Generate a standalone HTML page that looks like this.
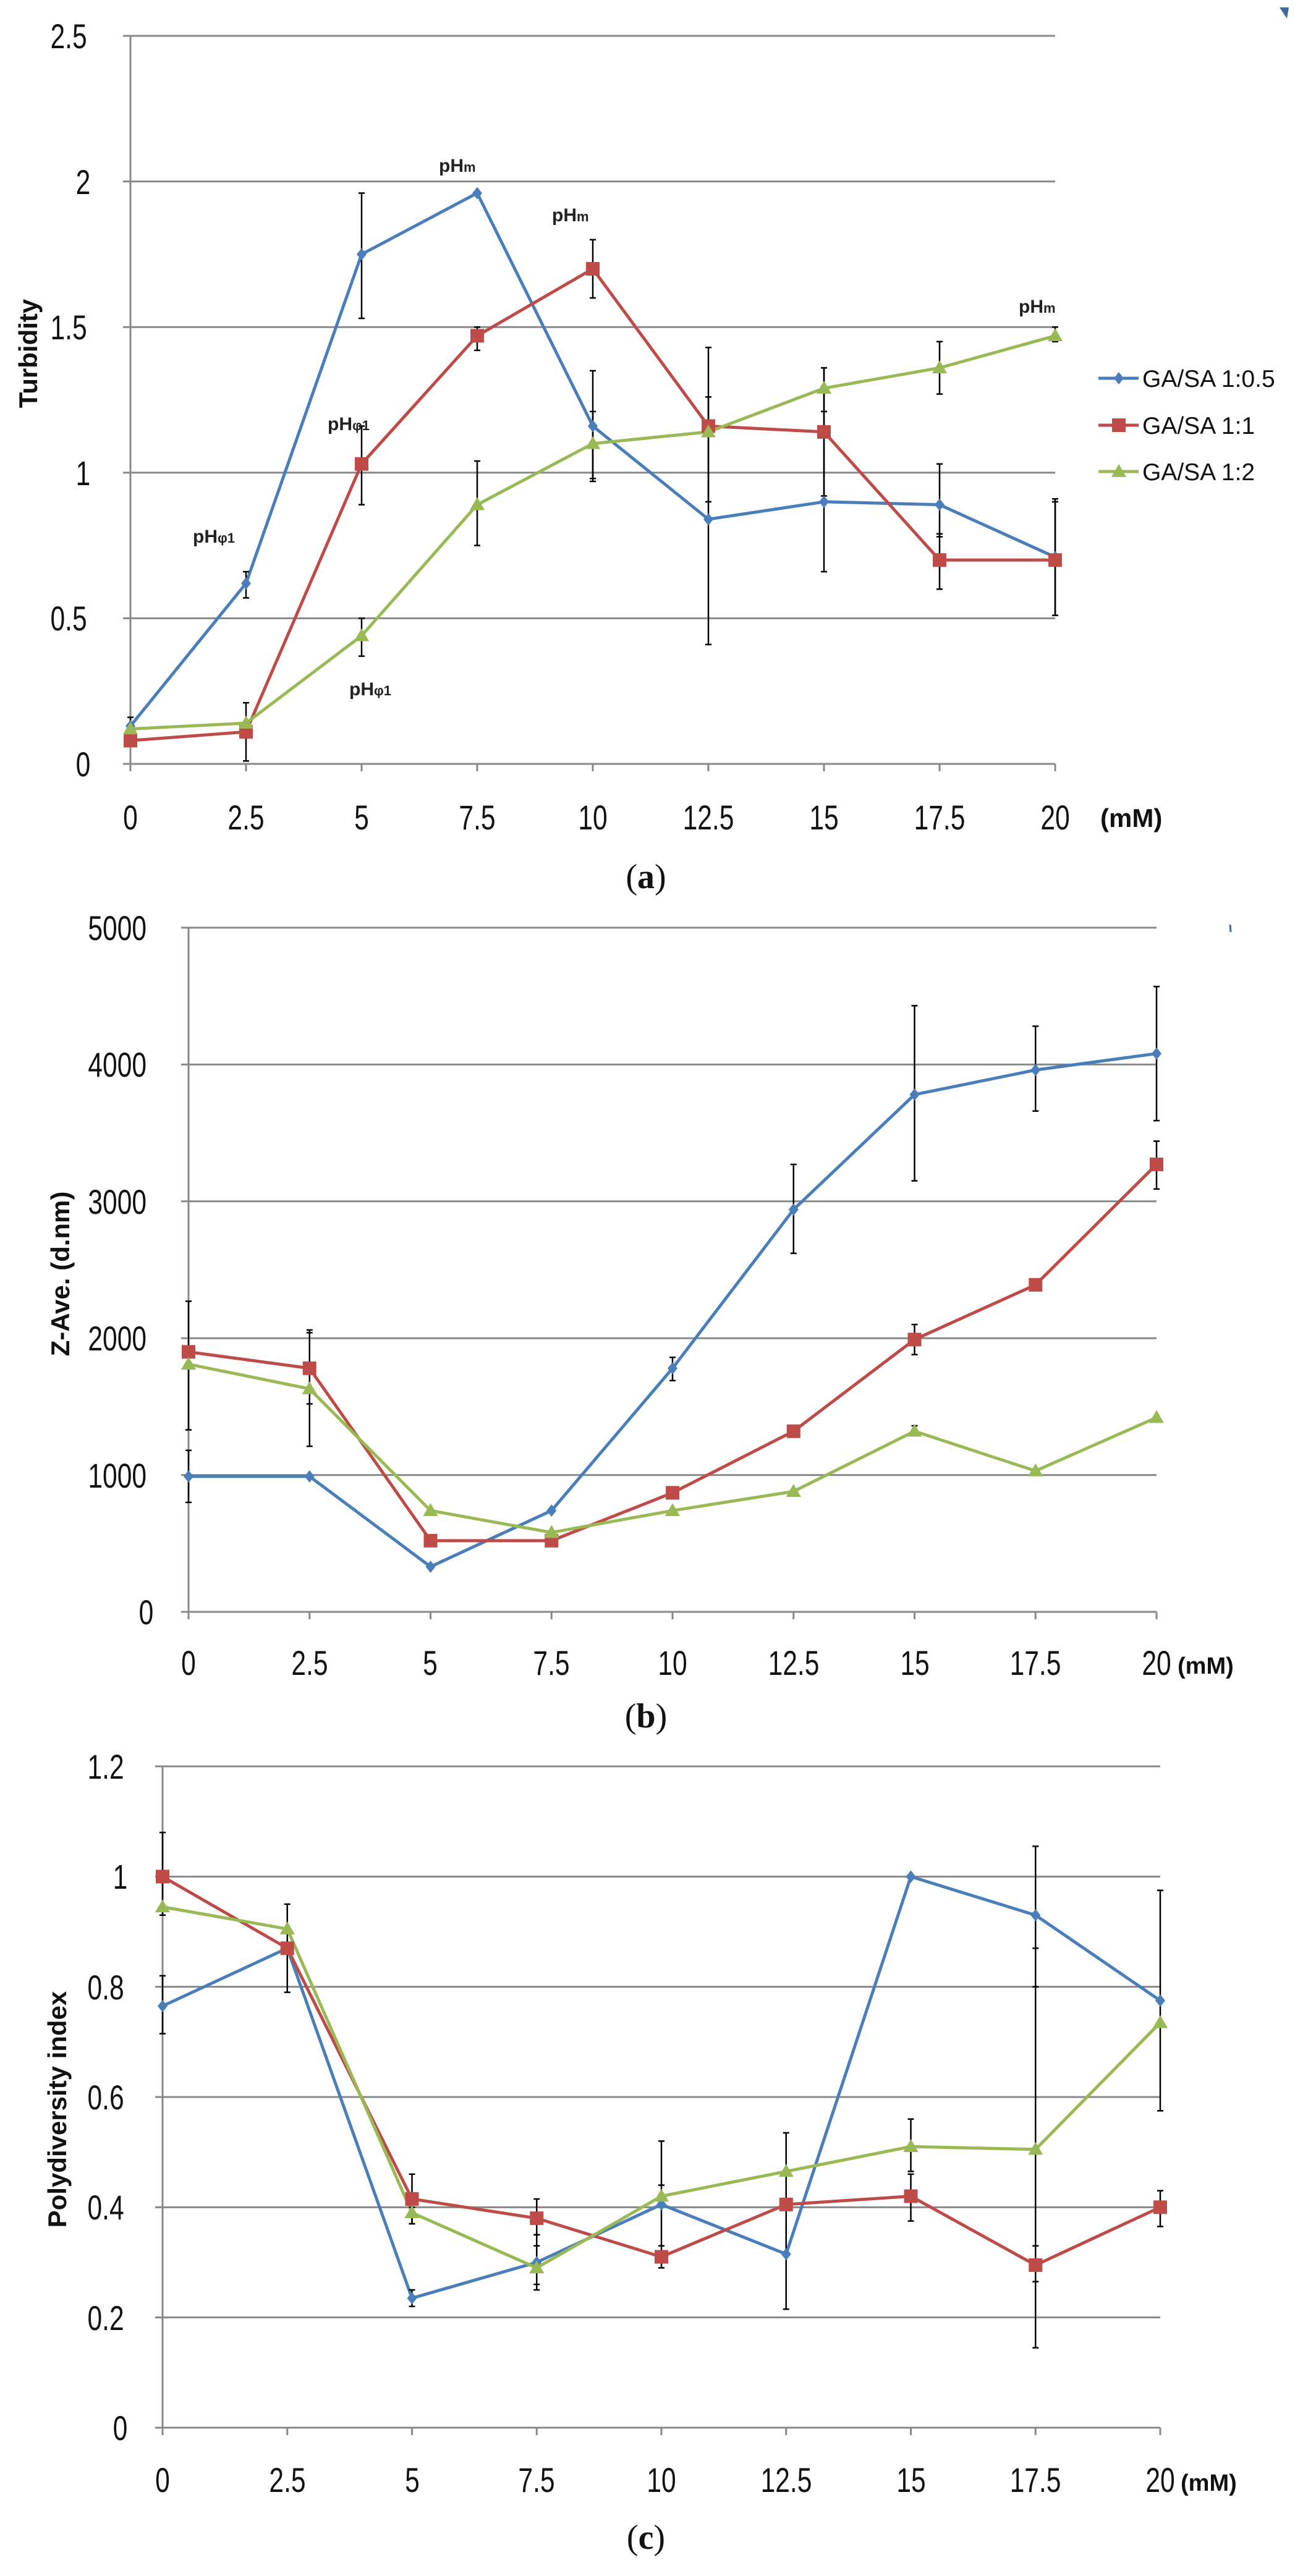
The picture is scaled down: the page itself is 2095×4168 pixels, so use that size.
<!DOCTYPE html>
<html><head><meta charset="utf-8"><style>
html,body{margin:0;padding:0;background:#fff;}
svg text{font-family:"Liberation Sans",sans-serif;}
.t{font-size:56px;fill:#111;transform-box:fill-box;transform-origin:center;transform:scaleX(0.76);}
.lg{font-size:39px;fill:#111;}
.ax{font-size:42px;font-weight:bold;fill:#111;}
.an{font-size:30px;font-weight:bold;fill:#222;}
.cap{font-family:"Liberation Serif",serif;font-size:56px;fill:#111;}
</style></head><body>
<svg id="s" width="2095" height="4163" viewBox="0 0 2095 4163" xmlns="http://www.w3.org/2000/svg">
<rect width="2095" height="4163" fill="#fff"/>
<polygon points="2070,12 2085,12 2082,30" fill="#3d6a9e"/>
<line x1="1990" y1="1496" x2="1991" y2="1508" stroke="#3d6a9e" stroke-width="3"/>
<g id="g"></g>
<g text-anchor="end">
<text class="t" x="150" y="1256">0</text><text class="t" x="150" y="1020">0.5</text><text class="t" x="150" y="785">1</text><text class="t" x="150" y="549">1.5</text><text class="t" x="150" y="314">2</text><text class="t" x="150" y="78">2.5</text>
</g>
<g text-anchor="middle">
<text class="t" x="211" y="1342">0</text><text class="t" x="398" y="1342">2.5</text><text class="t" x="585" y="1342">5</text><text class="t" x="772" y="1342">7.5</text><text class="t" x="959" y="1342">10</text><text class="t" x="1146" y="1342">12.5</text><text class="t" x="1333" y="1342">15</text><text class="t" x="1520" y="1342">17.5</text><text class="t" x="1707" y="1342">20</text>
</g>
<text class="ax" x="1780" y="1338">(mM)</text>
<text class="ax" transform="translate(60,572) rotate(-90)" text-anchor="middle">Turbidity</text>
<text class="lg" x="1848" y="626">GA/SA  1:0.5</text>
<text class="lg" x="1848" y="702">GA/SA  1:1</text>
<text class="lg" x="1848" y="777">GA/SA  1:2</text>
<text class="an" x="710" y="278">pH<tspan font-size="22">m</tspan></text>
<text class="an" x="893" y="358">pH<tspan font-size="22">m</tspan></text>
<text class="an" x="1648" y="506">pH<tspan font-size="22">m</tspan></text>
<text class="an" x="312" y="878">pH<tspan font-size="22">φ1</tspan></text>
<text class="an" x="530" y="696">pH<tspan font-size="22">φ1</tspan></text>
<text class="an" x="565" y="1125">pH<tspan font-size="22">φ1</tspan></text>
<text class="cap" x="1045" y="1437" text-anchor="middle">(<tspan font-weight="bold">a</tspan>)</text>
<g text-anchor="end">
<text class="t" x="252" y="2628">0</text><text class="t" x="252" y="2407">1000</text><text class="t" x="252" y="2185">2000</text><text class="t" x="252" y="1964">3000</text><text class="t" x="252" y="1742">4000</text><text class="t" x="252" y="1521">5000</text>
</g>
<g text-anchor="middle">
<text class="t" x="305" y="2710">0</text><text class="t" x="501" y="2710">2.5</text><text class="t" x="696" y="2710">5</text><text class="t" x="892" y="2710">7.5</text><text class="t" x="1088" y="2710">10</text><text class="t" x="1284" y="2710">12.5</text><text class="t" x="1480" y="2710">15</text><text class="t" x="1675" y="2710">17.5</text><text class="t" x="1871" y="2710">20</text>
</g>
<text class="ax" x="1905" y="2708" style="font-size:38px">(mM)</text>
<text class="ax" transform="translate(112,2061) rotate(-90)" text-anchor="middle">Z-Ave.  (d.nm)</text>
<text class="cap" x="1045" y="2795" text-anchor="middle">(<tspan font-weight="bold">b</tspan>)</text>
<g text-anchor="end">
<text class="t" x="210" y="3948">0</text><text class="t" x="210" y="3770">0.2</text><text class="t" x="210" y="3591">0.4</text><text class="t" x="210" y="3413">0.6</text><text class="t" x="210" y="3235">0.8</text><text class="t" x="210" y="3056">1</text><text class="t" x="210" y="2878">1.2</text>
</g>
<g text-anchor="middle">
<text class="t" x="263" y="4032">0</text><text class="t" x="465" y="4032">2.5</text><text class="t" x="667" y="4032">5</text><text class="t" x="868" y="4032">7.5</text><text class="t" x="1070" y="4032">10</text><text class="t" x="1272" y="4032">12.5</text><text class="t" x="1474" y="4032">15</text><text class="t" x="1675" y="4032">17.5</text><text class="t" x="1877" y="4032">20</text>
</g>
<text class="ax" x="1910" y="4030" style="font-size:38px">(mM)</text>
<text class="ax" transform="translate(107,3413) rotate(-90)" text-anchor="middle">Polydiversity index</text>
<text class="cap" x="1045" y="4124" text-anchor="middle">(<tspan font-weight="bold">c</tspan>)</text>
</svg>
<script>
var NS="http://www.w3.org/2000/svg",G=document.getElementById("g");
function el(n,a){var e=document.createElementNS(NS,n);for(var k in a)e.setAttribute(k,a[k]);G.appendChild(e);return e;}
var C=["#4a7ebb","#be4b48","#98b954"];
function mk(t,x,y,s){
 if(t==0)el("polygon",{points:(x)+","+(y-s)+" "+(x+s*0.8)+","+y+" "+x+","+(y+s)+" "+(x-s*0.8)+","+y,fill:C[0]});
 else if(t==1)el("rect",{x:x-s,y:y-s,width:2*s,height:2*s,fill:C[1]});
 else el("polygon",{points:x+","+(y-s*1.1)+" "+(x+s*1.1)+","+(y+s*0.8)+" "+(x-s*1.1)+","+(y+s*0.8),fill:C[2]});
}
function chart(o){
 var X=function(i){return o.x0+(o.x1-o.x0)*i/8;},Y=function(v){return o.y0-(v/o.max)*(o.y0-o.yt);};
 for(var k=1;k<=o.n;k++){var v=o.max*k/o.n;el("line",{x1:o.x0-12,x2:o.x1,y1:Y(v),y2:Y(v),stroke:"#888","stroke-width":3});}
 el("line",{x1:o.x0-12,x2:o.x1,y1:o.y0,y2:o.y0,stroke:"#888","stroke-width":3});
 el("line",{x1:o.x0,x2:o.x0,y1:o.yt,y2:o.y0,stroke:"#888","stroke-width":3});
 for(var i=0;i<=8;i++)el("line",{x1:X(i),x2:X(i),y1:o.y0,y2:o.y0+12,stroke:"#888","stroke-width":3});
 o.s.forEach(function(s,si){
  var p=s.d.map(function(v,i){return X(i)+","+Y(v);}).join(" ");
  el("polyline",{points:p,fill:"none",stroke:C[si],"stroke-width":5,"stroke-linejoin":"round"});
 });
 o.s.forEach(function(s,si){
  (s.e||[]).forEach(function(e){if(!e)return;var i=e[0],x=X(i);
   el("line",{x1:x,x2:x,y1:Y(e[1]),y2:Y(e[2]),stroke:"#000","stroke-width":2.5});
   el("line",{x1:x-5,x2:x+5,y1:Y(e[1]),y2:Y(e[1]),stroke:"#000","stroke-width":2.5});
   el("line",{x1:x-5,x2:x+5,y1:Y(e[2]),y2:Y(e[2]),stroke:"#000","stroke-width":2.5});});
 });
 o.s.forEach(function(s,si){s.d.forEach(function(v,i){mk(si,X(i),Y(v),si==0?10:11);});});
}
chart({x0:211,x1:1707,y0:1236,yt:58,max:2.5,n:5,s:[
 {d:[0.13,0.62,1.75,1.96,1.16,0.84,0.90,0.89,0.71],e:[[0,0.1,0.16],[1,0.57,0.66],[2,1.53,1.96],[4,0.97,1.35],[5,0.41,1.26],[6,0.66,1.21],[7,0.78,1.03],[8,0.51,0.91]]},
 {d:[0.08,0.11,1.03,1.47,1.70,1.16,1.14,0.70,0.70],e:[[1,0.01,0.21],[2,0.89,1.16],[3,1.42,1.50],[4,1.60,1.80],[5,0.90,1.43],[6,0.92,1.36],[7,0.60,0.79],[8,0.51,0.90]]},
 {d:[0.12,0.14,0.44,0.89,1.10,1.14,1.29,1.36,1.47],e:[[2,0.37,0.50],[3,0.75,1.04],[4,0.98,1.21],[6,1.21,1.36],[7,1.27,1.45],[8,1.45,1.50]]}]});
chart({x0:305,x1:1871,y0:2608,yt:1501,max:5000,n:5,s:[
 {d:[990,990,330,740,1780,2940,3780,3960,4080],e:[[0,800,1180],[4,1690,1860],[5,2620,3270],[6,3150,4430],[7,3660,4280],[8,3590,4570]]},
 {d:[1900,1780,520,520,870,1320,1990,2390,3270],e:[[0,1330,2270],[1,1520,2060],[6,1880,2100],[8,3090,3440]]},
 {d:[1810,1630,740,580,740,880,1320,1030,1420],e:[[1,1210,2040],[6,1300,1360]]}]});
chart({x0:263,x1:1877,y0:3928,yt:2858,max:1.2,n:6,s:[
 {d:[0.765,0.87,0.235,0.30,0.405,0.315,1.0,0.93,0.775],e:[[0,0.715,0.82],[2,0.22,0.25],[3,0.26,0.35],[4,0.33,0.44],[5,0.215,0.415],[7,0.80,1.055],[8,0.575,0.975]]},
 {d:[1.0,0.87,0.415,0.38,0.31,0.405,0.42,0.295,0.40],e:[[0,0.93,1.08],[1,0.79,0.95],[2,0.37,0.46],[3,0.35,0.415],[4,0.29,0.33],[6,0.375,0.46],[7,0.145,0.33],[8,0.365,0.43]]},
 {d:[0.945,0.905,0.39,0.29,0.42,0.465,0.51,0.505,0.735],e:[[2,0.37,0.40],[3,0.25,0.33],[4,0.44,0.52],[5,0.41,0.535],[6,0.465,0.56],[7,0.265,0.87]]}]});
[612,688,763].forEach(function(y,i){el("line",{x1:1777,x2:1842,y1:y,y2:y,stroke:C[i],"stroke-width":5});mk(i,1810,y,i==0?10:11);});
</script>
</body></html>
